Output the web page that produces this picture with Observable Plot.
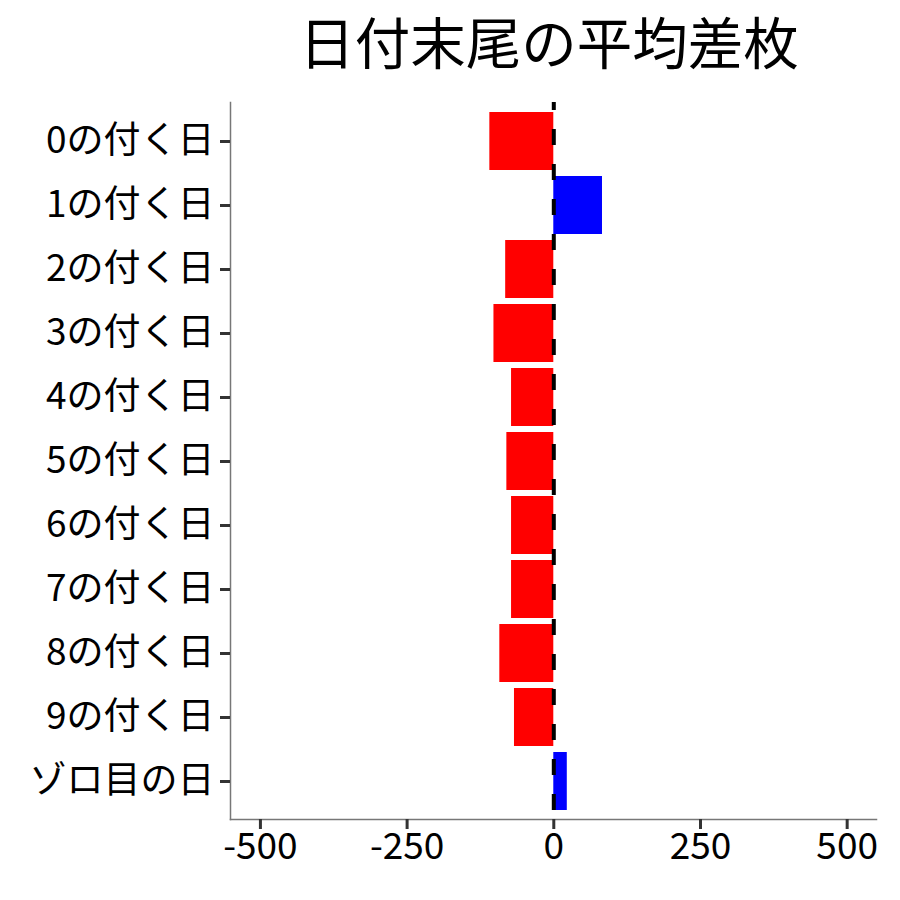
<!DOCTYPE html>
<html>
<head>
<meta charset="utf-8">
<script src="https://cdn.jsdelivr.net/npm/d3@7"></script>
<script src="https://cdn.jsdelivr.net/npm/@observablehq/plot@0.6"></script>
<style>
  body { margin: 0; background: #fff; font-family: "Noto Sans CJK JP", "Noto Sans", sans-serif; }
  #titlebox { height: 90px; overflow: visible; }
  #title { margin: 0; margin-left: 226px; width: 646px; text-align: center; padding-top: 0;
           font-size: 55.5px; font-weight: normal; line-height: 81px; color: #000; white-space: nowrap; }
</style>
</head>
<body>
<div id="titlebox"><div id="title">日付末尾の平均差枚</div></div>
<div id="chart"></div>
<script>
const categories = ["0の付く日","1の付く日","2の付く日","3の付く日","4の付く日","5の付く日","6の付く日","7の付く日","8の付く日","9の付く日","ゾロ目の日"];
const values = [-109, 83, -82, -102, -72, -80, -72, -72, -92, -67, 23];
const xTicks = [-500, -250, 0, 250, 500];

const data = categories.map((c, i) => ({cat: c, value: values[i]}));

const plot = Plot.plot({
  width: 900,
  height: 810,
  marginLeft: 230,
  marginRight: 24,
  marginTop: 12,
  marginBottom: 81,
  style: {fontFamily: '"Noto Sans CJK JP", sans-serif', fontSize: "37px", color: "#000", background: "#fff"},
  x: {domain: [-551, 550], ticks: xTicks, tickFormat: d => String(d), label: null},
  y: {domain: categories, paddingInner: 0.1, paddingOuter: 0.15, label: null},
  marks: [
    Plot.barX(data, {x: "value", y: "cat", fill: d => d.value < 0 ? "#FF0000" : "#0000FF"}),
    Plot.ruleX([0], {stroke: "#000", strokeWidth: 4, strokeDasharray: "16,19", strokeDashoffset: 8}),
    Plot.frame({anchor: "left", stroke: "#777", strokeWidth: 1.5}),
    Plot.frame({anchor: "bottom", stroke: "#777", strokeWidth: 1.5}),
    Plot.axisX({ticks: xTicks, tickFormat: d => String(d), tickSize: 10, tickPadding: 3, stroke: "#333", strokeWidth: 3, fill: "#000", fontSize: 37, label: null}),
    Plot.axisY({tickSize: 10, tickPadding: 6, stroke: "#333", strokeWidth: 3, fill: "#000", fontSize: 37, label: null})
  ]
});
document.getElementById("chart").appendChild(plot);
</script>
</body>
</html>
